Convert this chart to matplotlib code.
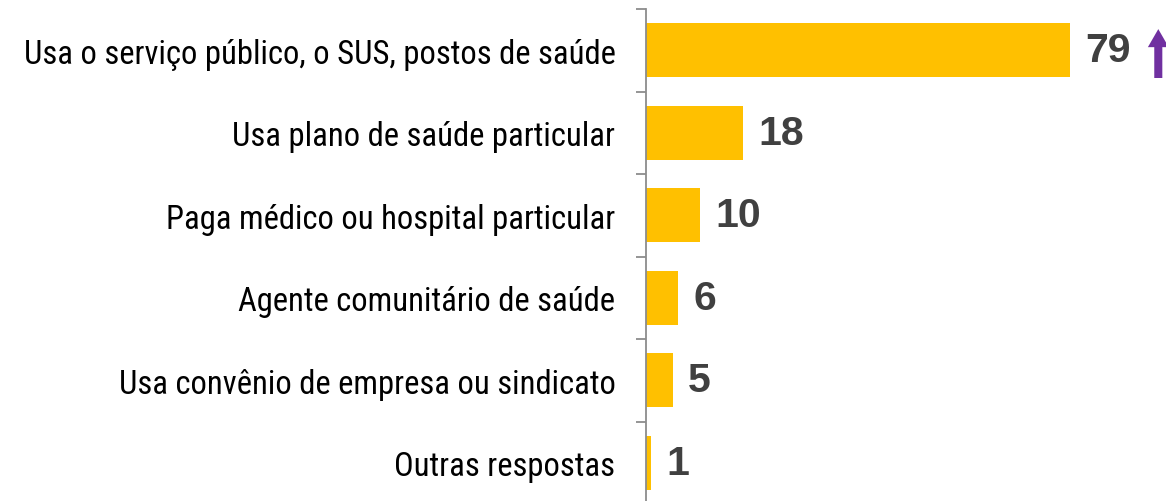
import numpy as np
import matplotlib.pyplot as plt
from matplotlib.ticker import FixedLocator

categories = [
    'Usa o serviço público, o SUS, postos de saúde',
    'Usa plano de saúde particular',
    'Paga médico ou hospital particular',
    'Agente comunitário de saúde',
    'Usa convênio de empresa ou sindicato',
    'Outras respostas',
]
values = [79, 18, 10, 6, 5, 1]
value_labels = ['79', '18', '10', '6', '5', '1']

W, H = 1166, 502
fig = plt.figure(figsize=(W / 100, H / 100), dpi=100)
# axes box in pixels: left 646, top 10, bottom 505 (slightly below figure)
left, top, bottom, right = 646, 10, 505, 1166
ax = fig.add_axes([left / W, (H - bottom) / H, (right - left) / W, (bottom - top) / H])

y = np.arange(len(categories))
ax.barh(y, values, height=0.66, color='#FFC000')
ax.set_ylim(len(categories) - 0.5, -0.5)
ax.set_xlim(0, (right - left) / 5.37)

for yi, v, lab in zip(y, values, value_labels):
    ax.annotate(lab, xy=(v, yi), xytext=(11, 0), textcoords='offset points',
                ha='left', va='center', fontsize=29.5, fontweight='bold',
                color='#404040', family='Liberation Sans')

# purple up arrow next to the first value
ax.annotate('', xy=(95.4, -0.29), xytext=(95.4, 0.37),
            arrowprops=dict(arrowstyle='simple,head_width=1.5,head_length=1.3,tail_width=0.58',
                            mutation_scale=10, color='#7030A0', lw=0),
            annotation_clip=False)

ax.set_yticks(y)
ax.set_yticklabels(categories, fontsize=23.5, family=['Roboto Condensed', 'DejaVu Sans'], color='black')
ax.tick_params(axis='y', which='major', length=0, pad=22)
ax.yaxis.set_minor_locator(FixedLocator(np.arange(-0.5, len(categories), 1.0)))
ax.tick_params(axis='y', which='minor', length=7, width=1.3, color='#8c8c8c')

ax.set_xticks([])
for s in ['top', 'right', 'bottom']:
    ax.spines[s].set_visible(False)
ax.spines['left'].set_color('#8c8c8c')
ax.spines['left'].set_linewidth(1.3)

plt.savefig('out.png', dpi=100)
